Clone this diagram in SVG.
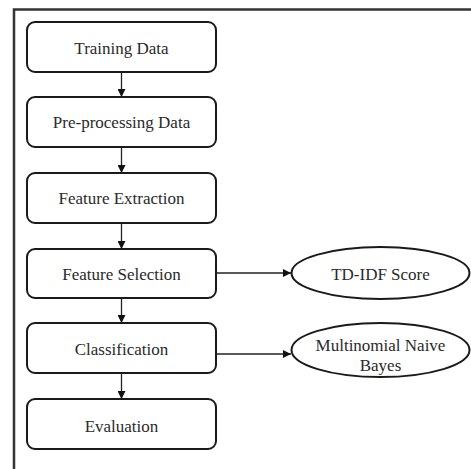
<svg xmlns="http://www.w3.org/2000/svg" width="471" height="469" viewBox="0 0 471 469">
  <defs>
    <style>
      .box { fill: #fff; stroke: #1a1a1a; stroke-width: 2; }
      .oval { fill: #fff; stroke: #1a1a1a; stroke-width: 2; }
      .lbl { font-family: "Liberation Serif", "Times New Roman", serif; font-size: 17px; fill: #2a2a2a; text-anchor: middle; }
      .wire { stroke: #222; stroke-width: 1.3; fill: none; marker-end: url(#head); }
      .frame { stroke: #333; stroke-width: 2.5; fill: none; }
    </style>
    <marker id="head" viewBox="0 0 10 10" refX="10" refY="5" markerWidth="8" markerHeight="8" markerUnits="userSpaceOnUse" orient="auto">
      <path d="M0,0 L10,5 L0,10 z" fill="#111"/>
    </marker>
  </defs>
  <rect width="471" height="469" fill="#fff"/>
  <!-- outer frame: top and left edges -->
  <path class="frame" d="M14,469 L14,9.5 L471,9.5"/>

  <g id="connectors">
    <line class="wire" x1="121.5" y1="72" x2="121.5" y2="97"/>
    <line class="wire" x1="121.5" y1="147" x2="121.5" y2="173"/>
    <line class="wire" x1="121.5" y1="223" x2="121.5" y2="249"/>
    <line class="wire" x1="121.5" y1="298" x2="121.5" y2="323"/>
    <line class="wire" x1="121.5" y1="373" x2="121.5" y2="399"/>
    <line class="wire" x1="216" y1="273" x2="291" y2="273"/>
    <line class="wire" x1="216" y1="354" x2="291" y2="354"/>
  </g>

  <g id="training-data">
    <rect class="box" x="27" y="22" width="189" height="50" rx="8"/>
    <text class="lbl" x="121.5" y="54">Training Data</text>
  </g>
  <g id="preprocessing">
    <rect class="box" x="27" y="97" width="189" height="50" rx="8"/>
    <text class="lbl" x="121.5" y="128">Pre-processing Data</text>
  </g>
  <g id="feature-extraction">
    <rect class="box" x="27" y="173" width="189" height="50" rx="8"/>
    <text class="lbl" x="121.5" y="204">Feature Extraction</text>
  </g>
  <g id="feature-selection">
    <rect class="box" x="27" y="249" width="189" height="49" rx="8"/>
    <text class="lbl" x="121.5" y="280">Feature Selection</text>
  </g>
  <g id="classification">
    <rect class="box" x="27" y="323" width="189" height="50" rx="8"/>
    <text class="lbl" x="121.5" y="355">Classification</text>
  </g>
  <g id="evaluation">
    <rect class="box" x="27" y="399" width="189" height="50" rx="8"/>
    <text class="lbl" x="121.5" y="432">Evaluation</text>
  </g>
  <g id="tdidf-score">
    <ellipse class="oval" cx="380.5" cy="273" rx="89" ry="26"/>
    <text class="lbl" x="380.5" y="280">TD-IDF Score</text>
  </g>
  <g id="naive-bayes">
    <ellipse class="oval" cx="380.5" cy="350" rx="89" ry="27"/>
    <text class="lbl" x="380.5" y="351">Multinomial Naive</text>
    <text class="lbl" x="380.5" y="371">Bayes</text>
  </g>
</svg>
